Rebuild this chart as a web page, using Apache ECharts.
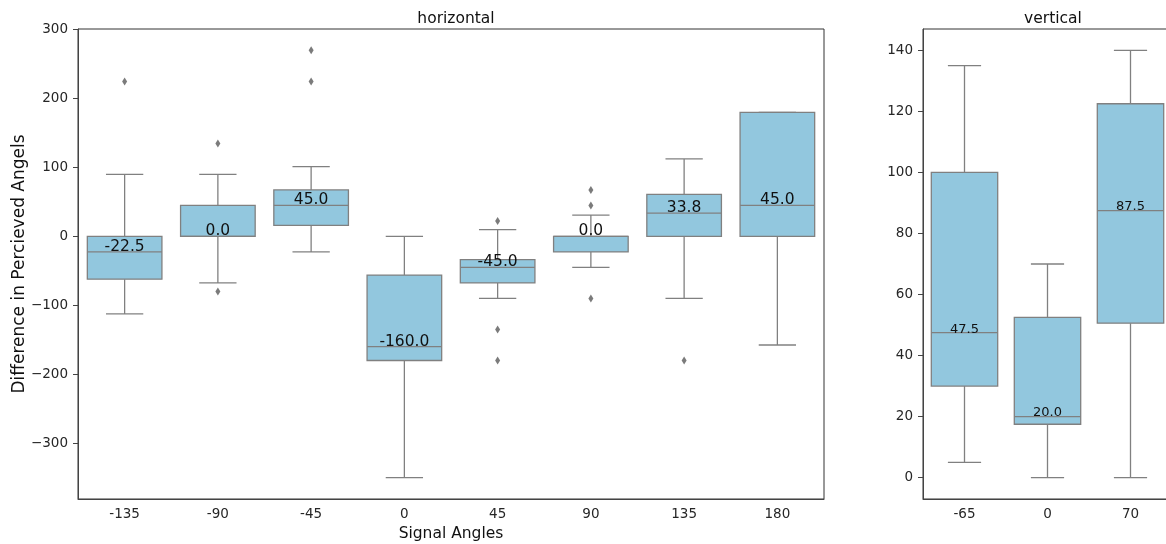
<!DOCTYPE html>
<html>
<head>
<meta charset="utf-8">
<script src="https://cdn.jsdelivr.net/npm/echarts@6/dist/echarts.min.js"></script>
<style>
  html, body { margin: 0; padding: 0; background: #fff; }
  #c1 { width: 1166px; height: 544px; }
</style>
</head>
<body>
<div id="c1"></div>
<script>
// horizontal panel
var hCats = ['-135', '-90', '-45', '0', '45', '90', '135', '180'];
var hMin = [-112.5, -67.5, -22.5, -350, -90, -45, -90, -157.5];
var hQ1 = [-62, 0, 16, -180, -67.5, -22.5, 0, 0];
var hMed = [-22.5, 0, 45, -160, -45, 0, 33.75, 45];
var hQ3 = [0, 45, 67.5, -56, -33.75, 0, 61, 180];
var hMax = [90, 90, 101.25, 0, 10, 31, 112.5, 180];
var hOut = [[0, 225], [1, 135], [1, -80], [2, 270], [2, 225], [4, 22.5], [4, -135], [4, -180],
            [5, 67.5], [5, 45], [5, -90], [6, -180]];
var hTicks = [-300, -200, -100, 0, 100, 200, 300];

// vertical panel
var vCats = ['-65', '0', '70'];
var vMin = [5, 0, 0];
var vQ1 = [30, 17.5, 50.6];
var vMed = [47.5, 20, 87.5];
var vQ3 = [100, 52.5, 122.5];
var vMax = [135, 70, 140];
var vTicks = [0, 20, 40, 60, 80, 100, 120, 140];

var FONT = 'DejaVu Sans';

function rows(mn, q1, md, q3, mx) {
    var out = [];
    for (var i = 0; i < mn.length; i++) {
        out.push([i, mn[i], q1[i], md[i], q3[i], mx[i]]);
    }
    return out;
}

function boxRenderer(fontSize) {
    return function (params, api) {
        var x = api.value(0);
        var p = function (k) { return api.coord([x, api.value(k)]); };
        var lo = p(1), q1 = p(2), md = p(3), q3 = p(4), hi = p(5);
        var bw = api.size([1, 0])[0];
        var cx = lo[0], half = bw * 0.4, cap = bw * 0.2;
        var ls = { stroke: '#808080', lineWidth: 1.3 };
        return {
            type: 'group',
            children: [
                { type: 'line', shape: { x1: cx, y1: hi[1], x2: cx, y2: q3[1] }, style: ls },
                { type: 'line', shape: { x1: cx, y1: q1[1], x2: cx, y2: lo[1] }, style: ls },
                { type: 'line', shape: { x1: cx - cap, y1: hi[1], x2: cx + cap, y2: hi[1] }, style: ls },
                { type: 'line', shape: { x1: cx - cap, y1: lo[1], x2: cx + cap, y2: lo[1] }, style: ls },
                { type: 'rect', shape: { x: cx - half, y: q3[1], width: half * 2, height: q1[1] - q3[1] },
                  style: { fill: '#92C7DE', stroke: '#808080', lineWidth: 1.3 } },
                { type: 'line', shape: { x1: cx - half, y1: md[1], x2: cx + half, y2: md[1] }, style: ls },
                { type: 'text', style: { text: api.value(3).toFixed(1), x: cx, y: md[1] + 3,
                  align: 'center', verticalAlign: 'bottom', fontSize: fontSize, fontFamily: FONT, fill: '#111' } }
            ]
        };
    };
}

function minus(v) { return String(v).replace('-', '\u2212'); }

var axisTxt = { color: '#262626', fontSize: 13.5, fontFamily: FONT };

var chart = echarts.init(document.getElementById('c1'));
var option = {
    backgroundColor: '#fff',
    animation: false,
    title: [
        { text: 'horizontal', left: 451, top: 6, textAlign: 'center',
          textStyle: { fontSize: 15.5, fontWeight: 'normal', fontFamily: FONT, color: '#111' } },
        { text: 'vertical', left: 1048, top: 6, textAlign: 'center',
          textStyle: { fontSize: 15.5, fontWeight: 'normal', fontFamily: FONT, color: '#111' } }
    ],
    grid: [
        { left: 78, top: 29, width: 746, height: 470, show: true, borderColor: '#333', borderWidth: 1,
          outerBoundsMode: 'none', containLabel: false },
        { left: 923, top: 29, width: 249, height: 470, show: true, borderColor: '#333', borderWidth: 1,
          outerBoundsMode: 'none', containLabel: false }
    ],
    xAxis: [
        { type: 'category', gridIndex: 0, data: hCats, boundaryGap: true,
          name: 'Signal Angles', nameLocation: 'middle', nameGap: 27,
          nameTextStyle: { fontSize: 15.5, fontFamily: FONT, color: '#111' },
          axisLine: { onZero: false, lineStyle: { color: '#444' } },
          axisTick: { alignWithLabel: true, length: 5, lineStyle: { color: '#444' } },
          axisLabel: Object.assign({ margin: 8 }, axisTxt) },
        { type: 'category', gridIndex: 1, data: vCats, boundaryGap: true,
          axisLine: { onZero: false, lineStyle: { color: '#444' } },
          axisTick: { alignWithLabel: true, length: 5, lineStyle: { color: '#444' } },
          axisLabel: Object.assign({ margin: 8 }, axisTxt) }
    ],
    yAxis: [
        { type: 'value', gridIndex: 0, min: -381, max: 301,
          name: 'Difference in Percieved Angels', nameLocation: 'middle', nameGap: 50,
          nameMoveOverlap: false,
          nameTextStyle: { fontSize: 17, fontFamily: FONT, color: '#111' },
          splitLine: { show: false },
          axisLine: { show: true, onZero: false, lineStyle: { color: '#444' } },
          axisTick: { show: true, length: 5, customValues: hTicks, lineStyle: { color: '#444' } },
          axisLabel: Object.assign({ margin: 10, customValues: hTicks, formatter: minus }, axisTxt) },
        { type: 'value', gridIndex: 1, min: -7, max: 147,
          splitLine: { show: false },
          axisLine: { show: true, onZero: false, lineStyle: { color: '#444' } },
          axisTick: { show: true, length: 5, customValues: vTicks, lineStyle: { color: '#444' } },
          axisLabel: Object.assign({ margin: 10, customValues: vTicks, formatter: minus }, axisTxt) }
    ],
    series: [
        { type: 'custom', xAxisIndex: 0, yAxisIndex: 0, renderItem: boxRenderer(15.5),
          encode: { x: 0, y: [1, 2, 3, 4, 5] }, data: rows(hMin, hQ1, hMed, hQ3, hMax) },
        { type: 'scatter', xAxisIndex: 0, yAxisIndex: 0, symbol: 'diamond', symbolSize: [5, 8],
          itemStyle: { color: '#5a5a5a' }, data: hOut },
        { type: 'custom', xAxisIndex: 1, yAxisIndex: 1, renderItem: boxRenderer(13),
          encode: { x: 0, y: [1, 2, 3, 4, 5] }, data: rows(vMin, vQ1, vMed, vQ3, vMax) }
    ]
};
chart.setOption(option);
</script>
</body>
</html>
